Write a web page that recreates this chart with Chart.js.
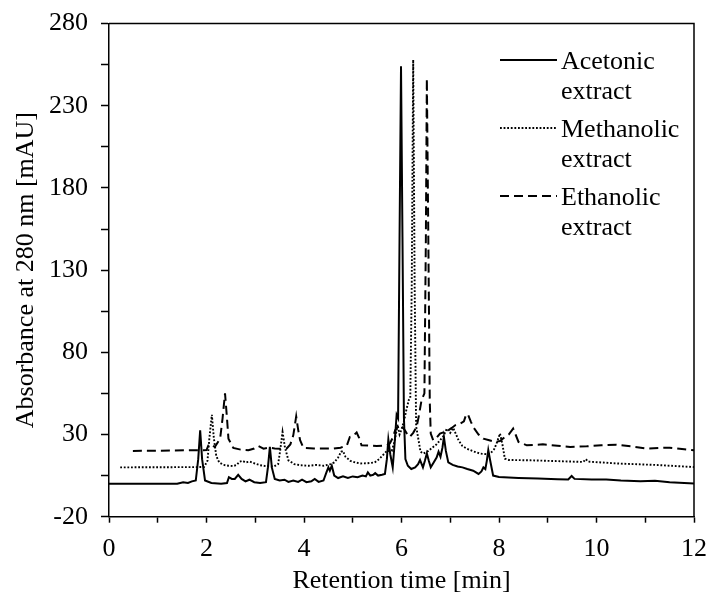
<!DOCTYPE html>
<html>
<head>
<meta charset="utf-8">
<title>HPLC chromatograms</title>
<script src="https://cdn.jsdelivr.net/npm/chart.js@4.4.1/dist/chart.umd.min.js"></script>
<style>
  html, body { margin: 0; padding: 0; background: #fff; }
</style>
</head>
<body>
<canvas id="chromChart" width="707" height="597"></canvas>
<script>
// Acetonic extract (solid)
const acetonicTime = [0, 1.40, 1.52, 1.62, 1.70, 1.78, 1.83, 1.87, 1.91, 1.97, 2.10, 2.30, 2.42, 2.46, 2.52, 2.58, 2.65, 2.72, 2.80, 2.88, 2.98, 3.10, 3.22, 3.26, 3.30, 3.34, 3.40, 3.50, 3.60, 3.68, 3.78, 3.88, 3.96, 4.05, 4.15, 4.22, 4.30, 4.40, 4.46, 4.50, 4.53, 4.57, 4.62, 4.70, 4.80, 4.90, 5.00, 5.10, 5.20, 5.27, 5.31, 5.36, 5.42, 5.46, 5.52, 5.60, 5.66, 5.70, 5.73, 5.77, 5.82, 5.86, 5.90, 5.93, 5.96, 5.99, 6.02, 6.05, 6.08, 6.13, 6.20, 6.28, 6.34, 6.38, 6.44, 6.48, 6.52, 6.56, 6.60, 6.66, 6.72, 6.76, 6.80, 6.84, 6.87, 6.91, 6.96, 7.05, 7.15, 7.25, 7.35, 7.47, 7.58, 7.64, 7.68, 7.72, 7.75, 7.78, 7.82, 7.88, 8.00, 8.40, 8.80, 9.20, 9.42, 9.49, 9.55, 9.90, 10.20, 10.50, 10.90, 11.20, 11.50, 12.00];
const acetonicAbs = [0, 0, 1, 0.5, 1.5, 2, 15, 32.5, 15, 2, 0.5, 0, 0.5, 4, 3, 3, 5.5, 3, 1.5, 2.5, 1, 0.5, 1, 10, 22.5, 10, 3, 2, 2.5, 1.2, 2, 1.2, 2.5, 1, 1.5, 3, 1.2, 2, 7, 10, 8, 11, 5, 3.5, 4.5, 3.5, 4.5, 4, 5, 4.5, 7, 5, 5.5, 6.5, 5, 5.5, 6, 15, 27, 18, 10, 25, 42, 40, 150, 254, 150, 40, 15, 11, 9, 10, 12, 14.5, 10, 14, 18.5, 14, 10, 13, 16, 19.5, 16.5, 22, 28.5, 20, 13, 11.5, 10.5, 10, 9, 8, 6, 7.5, 10, 9, 14, 20.5, 14, 5, 4.2, 3.6, 3.2, 2.8, 2.7, 4.8, 3, 2.6, 2.6, 2, 1.6, 1.8, 1, 0.2];

// Methanolic extract (dotted)
const methanolicTime = [0.23, 1.95, 2.02, 2.06, 2.11, 2.15, 2.20, 2.26, 2.35, 2.45, 2.55, 2.62, 2.68, 2.74, 2.80, 2.89, 2.98, 3.10, 3.23, 3.38, 3.47, 3.51, 3.56, 3.61, 3.68, 3.80, 3.92, 4.10, 4.25, 4.40, 4.55, 4.62, 4.70, 4.76, 4.80, 4.85, 4.95, 5.05, 5.15, 5.30, 5.45, 5.54, 5.62, 5.70, 5.80, 5.86, 5.92, 5.96, 6.00, 6.05, 6.10, 6.15, 6.18, 6.21, 6.24, 6.27, 6.30, 6.35, 6.39, 6.45, 6.55, 6.65, 6.72, 6.79, 6.86, 6.93, 7.00, 7.06, 7.12, 7.17, 7.25, 7.34, 7.45, 7.61, 7.75, 7.82, 7.90, 7.95, 8.02, 8.07, 8.12, 8.20, 8.64, 9.20, 9.73, 9.78, 9.83, 10.48, 11.20, 12.00];
const methanolicAbs = [10, 10.2, 14, 28, 42, 28, 17, 13, 11.5, 11, 10.8, 11.5, 13.5, 14, 13, 13.5, 12.5, 11.3, 10.7, 10.5, 12, 20, 31.5, 22, 14.3, 12, 11.3, 11, 11.5, 11, 12, 13, 16, 19.5, 20, 16.5, 14, 13, 12.4, 12.5, 13, 15, 17.5, 20, 20, 26, 36, 30, 33, 38, 45, 51, 52, 120, 258, 120, 35, 26.5, 19.5, 18.4, 20, 22.4, 24, 26.5, 29, 33.6, 31, 34, 30, 26.5, 23, 21.4, 20, 18.4, 18, 18.4, 21, 24.5, 30.6, 24, 15.3, 14.5, 14.3, 13.8, 13.3, 15, 13.5, 12.3, 11.5, 10.2];

// Ethanolic extract (dashed)
const ethanolicTime = [0.49, 2.00, 2.04, 2.10, 2.17, 2.28, 2.33, 2.38, 2.42, 2.45, 2.55, 2.70, 2.86, 2.98, 3.06, 3.17, 3.27, 3.40, 3.51, 3.64, 3.72, 3.78, 3.84, 3.88, 3.92, 3.99, 4.20, 4.40, 4.60, 4.75, 4.88, 4.94, 5.00, 5.08, 5.13, 5.18, 5.35, 5.49, 5.70, 5.76, 5.82, 5.87, 5.93, 5.98, 6.03, 6.07, 6.12, 6.17, 6.24, 6.31, 6.36, 6.41, 6.47, 6.50, 6.52, 6.55, 6.58, 6.60, 6.65, 6.72, 6.79, 6.88, 6.96, 7.03, 7.10, 7.20, 7.28, 7.33, 7.37, 7.42, 7.47, 7.58, 7.68, 7.80, 7.92, 8.02, 8.12, 8.20, 8.29, 8.34, 8.40, 8.57, 8.90, 9.20, 9.46, 9.80, 10.10, 10.41, 10.70, 11.03, 11.30, 11.50, 11.80, 12.00];
const ethanolicAbs = [20, 20.5, 23.4, 24, 22.4, 27.5, 40, 55, 40, 27.5, 21.8, 20.8, 20.4, 21.5, 23, 21.4, 22, 21.5, 21.4, 21.4, 24, 29.5, 41, 33, 26.5, 21.8, 21.5, 21.5, 21.5, 22, 23.4, 28.5, 29, 31.2, 28, 23.4, 23.2, 23, 23.4, 24.5, 28, 32.6, 35, 36, 34, 32.6, 30, 28.5, 31, 34.6, 42, 50.8, 55, 150, 246.6, 150, 50, 30.6, 26.5, 28, 30.6, 31.5, 32.6, 34, 35.6, 36.6, 38, 42.5, 41.7, 38, 34.6, 30, 27.5, 26.5, 25.5, 26, 28.5, 30, 33.6, 30, 25.5, 23.4, 24, 23.2, 22.4, 22.8, 23.5, 23.8, 22.8, 21.4, 21.8, 22, 21, 20.4];

// Axis ticks
const xTickValues = [0, 1, 2, 3, 4, 5, 6, 7, 8, 9, 10, 11, 12];
const xTickLabels = [0, 2, 4, 6, 8, 10, 12];
const yTickValues = [-20, 5, 30, 55, 80, 105, 130, 155, 180, 205, 230, 255, 280];
const yTickLabels = [-20, 30, 80, 130, 180, 230, 280];

const seriesLabels = [['Acetonic', 'extract'], ['Methanolic', 'extract'], ['Ethanolic', 'extract']];

const serifFont = "'Liberation Serif', 'Times New Roman', serif";

function toPoints(times, values) {
    return times.map((t, i) => ({ x: t, y: values[i] }));
}

// Frame on top/right and the two-line legend in the upper right
const frameAndLegend = {
    id: 'frameAndLegend',
    afterDraw(chart) {
        const { ctx, chartArea: a } = chart;
        ctx.save();
        ctx.strokeStyle = '#000';
        ctx.lineWidth = 1.5;
        ctx.beginPath();
        ctx.moveTo(a.left, a.top);
        ctx.lineTo(a.right, a.top);
        ctx.lineTo(a.right, a.bottom);
        ctx.stroke();

        const lineX0 = a.right - 194;
        const lineX1 = a.right - 137;
        const textX = a.right - 133;
        ctx.font = '26px ' + serifFont;
        ctx.fillStyle = '#000';
        ctx.textAlign = 'left';
        ctx.textBaseline = 'alphabetic';
        chart.data.datasets.forEach((ds, i) => {
            const y = a.top + 36.5 + i * 68;
            ctx.strokeStyle = ds.borderColor;
            ctx.lineWidth = ds.borderWidth;
            ctx.setLineDash(ds.borderDash || []);
            ctx.beginPath();
            ctx.moveTo(lineX0, y);
            ctx.lineTo(lineX1, y);
            ctx.stroke();
            ctx.setLineDash([]);
            seriesLabels[i].forEach((txt, j) => {
                ctx.fillText(txt, textX, y + 8.5 + j * 30.5);
            });
        });
        ctx.restore();
    }
};

const ctx = document.getElementById('chromChart').getContext('2d');

new Chart(ctx, {
    type: 'line',
    data: {
        datasets: [
            {
                label: 'Acetonic extract',
                data: toPoints(acetonicTime, acetonicAbs),
                borderColor: '#000',
                borderWidth: 2,
                pointRadius: 0,
                tension: 0
            },
            {
                label: 'Methanolic extract',
                data: toPoints(methanolicTime, methanolicAbs),
                borderColor: '#000',
                borderWidth: 1.9,
                borderDash: [1.8, 1.8],
                pointRadius: 0,
                tension: 0
            },
            {
                label: 'Ethanolic extract',
                data: toPoints(ethanolicTime, ethanolicAbs),
                borderColor: '#000',
                borderWidth: 2,
                borderDash: [9, 5],
                pointRadius: 0,
                tension: 0
            }
        ]
    },
    options: {
        responsive: false,
        animation: false,
        events: [],
        layout: {
            padding: { left: 0, top: 23.5, right: 13, bottom: 0 }
        },
        plugins: {
            legend: { display: false },
            tooltip: { enabled: false }
        },
        scales: {
            x: {
                type: 'linear',
                min: 0,
                max: 12,
                afterBuildTicks: scale => {
                    scale.ticks = xTickValues.map(v => ({ value: v }));
                },
                afterFit: scale => {
                    scale.height = 80.3;
                    scale.paddingLeft = 0;
                    scale.paddingRight = 0;
                },
                ticks: {
                    autoSkip: false,
                    maxRotation: 0,
                    color: '#000',
                    padding: 11,
                    font: { family: serifFont, size: 26 },
                    callback: v => xTickLabels.includes(v) ? String(v) : ''
                },
                grid: {
                    drawOnChartArea: false,
                    drawTicks: true,
                    tickLength: 6,
                    tickColor: '#000',
                    tickWidth: 1.5
                },
                border: { color: '#000', width: 1.5 },
                title: {
                    display: true,
                    text: 'Retention time [min]',
                    color: '#000',
                    font: { family: serifFont, size: 26 },
                    padding: { top: 0, bottom: 0 }
                }
            },
            y: {
                type: 'linear',
                min: -20,
                max: 280,
                afterBuildTicks: scale => {
                    scale.ticks = yTickValues.map(v => ({ value: v }));
                },
                afterFit: scale => {
                    scale.width = 109;
                    scale.paddingTop = 0;
                    scale.paddingBottom = 0;
                },
                ticks: {
                    autoSkip: false,
                    color: '#000',
                    padding: 13,
                    font: { family: serifFont, size: 26 },
                    callback: v => yTickLabels.includes(v) ? String(v) : ''
                },
                grid: {
                    drawOnChartArea: false,
                    drawTicks: true,
                    tickLength: 8,
                    tickColor: '#000',
                    tickWidth: 1.5
                },
                border: { color: '#000', width: 1.5 },
                title: {
                    display: true,
                    text: 'Absorbance at 280 nm [mAU]',
                    color: '#000',
                    font: { family: serifFont, size: 26 },
                    padding: { top: 11, bottom: 0 }
                }
            }
        }
    },
    plugins: [frameAndLegend]
});
</script>
</body>
</html>
